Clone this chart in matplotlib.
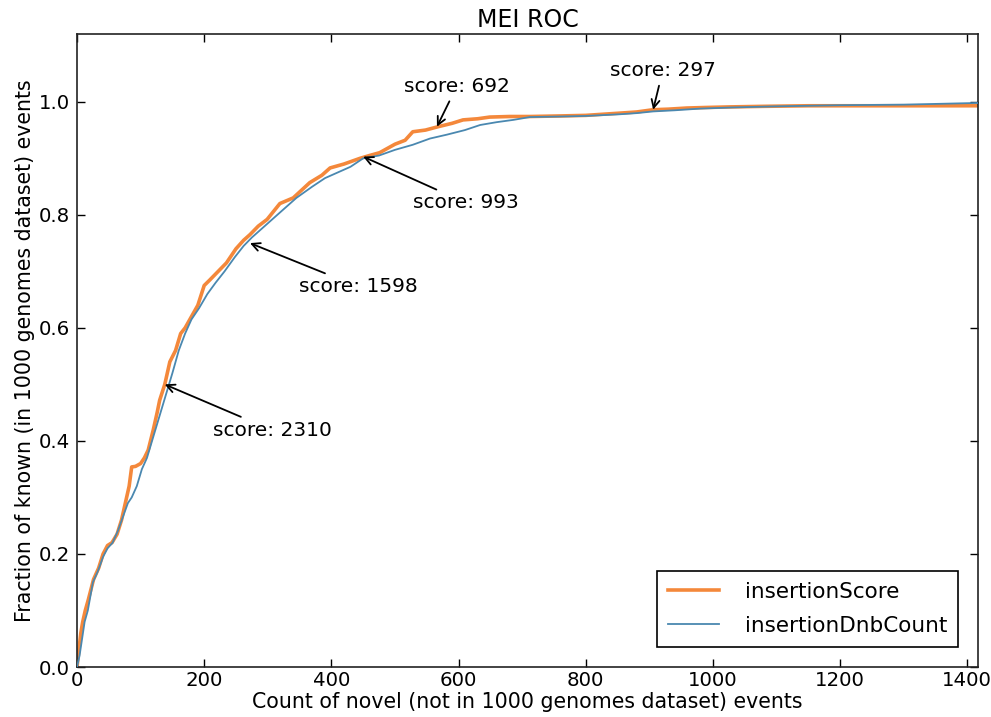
import matplotlib
matplotlib.use("Agg")
import matplotlib.pyplot as plt

# Data
score_x = [0, 3, 6, 9, 13, 18, 26, 34, 41, 48, 55, 63, 70, 76, 82, 86, 92, 100, 106, 112, 120, 126, 130,
           138, 146, 155, 163, 170, 180, 190, 200, 209, 222, 235, 250, 262, 272, 285, 299, 319, 340, 366,
           385, 398, 420, 445, 460, 476, 500, 516, 528, 548, 568, 590, 607, 630, 649, 680, 712, 760, 800,
           854, 880, 906, 930, 959, 990, 1027, 1080, 1150, 1250, 1350, 1417]
score_y = [0.0, 0.03, 0.06, 0.08, 0.10, 0.12, 0.155, 0.175, 0.20, 0.215, 0.22, 0.235, 0.26, 0.29, 0.32, 0.354,
           0.355, 0.36, 0.37, 0.384, 0.42, 0.45, 0.472, 0.50, 0.54, 0.56, 0.59, 0.60, 0.62, 0.64, 0.675, 0.685,
           0.70, 0.715, 0.74, 0.755, 0.765, 0.78, 0.792, 0.82, 0.83, 0.857, 0.87, 0.883, 0.89, 0.90, 0.905,
           0.91, 0.925, 0.932, 0.947, 0.950, 0.956, 0.962, 0.968, 0.970, 0.973, 0.974, 0.974, 0.975, 0.976,
           0.980, 0.982, 0.986, 0.987, 0.989, 0.990, 0.991, 0.992, 0.993, 0.993, 0.993, 0.993]

dnb_x = [0, 4, 8, 12, 17, 25, 33, 41, 48, 56, 64, 72, 80, 86, 94, 102, 110, 118, 126, 134, 142, 150, 160,
         170, 180, 192, 205, 218, 232, 248, 262, 275, 290, 305, 325, 345, 370, 390, 410, 430, 450, 475,
         500, 528, 555, 582, 610, 634, 660, 686, 712, 760, 800, 854, 880, 906, 940, 980, 1030, 1100, 1200,
         1300, 1417]
dnb_y = [0.0, 0.02, 0.05, 0.08, 0.10, 0.15, 0.17, 0.195, 0.21, 0.22, 0.24, 0.265, 0.29, 0.30, 0.32, 0.35,
         0.37, 0.40, 0.43, 0.46, 0.49, 0.52, 0.56, 0.59, 0.615, 0.635, 0.66, 0.68, 0.70, 0.725, 0.745, 0.76,
         0.775, 0.79, 0.81, 0.83, 0.85, 0.865, 0.875, 0.885, 0.90, 0.905, 0.915, 0.924, 0.935, 0.942, 0.950,
         0.959, 0.964, 0.968, 0.973, 0.974, 0.975, 0.978, 0.980, 0.983, 0.985, 0.988, 0.990, 0.992, 0.994,
         0.995, 0.998]

annotations = [
    ("score: 692", (566, 0.956), (597, 1.027)),
    ("score: 297", (906, 0.986), (921, 1.055)),
    ("score: 993", (450, 0.903), (612, 0.821)),
    ("score: 1598", (272, 0.750), (442, 0.673)),
    ("score: 2310", (138, 0.500), (307, 0.419)),
]

x_ticks = [0, 200, 400, 600, 800, 1000, 1200, 1400]
y_ticks = [0.0, 0.2, 0.4, 0.6, 0.8, 1.0]

plt.rcParams['font.family'] = ['DejaVu Sans']
fig = plt.figure(figsize=(9.91, 7.17), dpi=100)
ax = fig.add_axes([0.0777, 0.0697, 0.9093, 0.8829])

ax.plot(score_x, score_y, color='#F4883B', lw=2.6, label='insertionScore', zorder=2)
ax.plot(dnb_x, dnb_y, color='#4A88B0', lw=1.3, label='insertionDnbCount', zorder=3)

for text, xy, xytext in annotations:
    ax.annotate(text, xy=xy, xytext=xytext, ha='center', va='center', fontsize=14.5,
                arrowprops=dict(arrowstyle='->', color='black', lw=1.3, shrinkA=2, shrinkB=0))

ax.set_xlim(0, 1417)
ax.set_ylim(0, 1.12)
ax.set_xticks(x_ticks)
ax.set_yticks(y_ticks)
ax.set_yticklabels([f"{v:.1f}" for v in y_ticks])
ax.tick_params(direction='in', top=True, right=True, length=6, width=1, labelsize=14.2)
ax.tick_params(axis='x', pad=3)
ax.tick_params(axis='y', pad=5)
for s in ax.spines.values():
    s.set_linewidth(1.2)
    s.set_color('#222222')

ax.set_title('MEI ROC', fontsize=17, pad=5)
ax.set_xlabel('Count of novel (not in 1000 genomes dataset) events', fontsize=14.8, labelpad=1)
ax.set_ylabel('Fraction of known (in 1000 genomes dataset) events', fontsize=14.8, labelpad=3)

leg = ax.legend(loc='lower right', fontsize=15.5, fancybox=False, framealpha=1,
                edgecolor='black', borderpad=0.5, handlelength=2.4, handletextpad=1.2,
                labelspacing=0.65, bbox_to_anchor=(0.99, 0.015))
leg.get_frame().set_linewidth(1.2)

fig.savefig('out.png', dpi=100)
